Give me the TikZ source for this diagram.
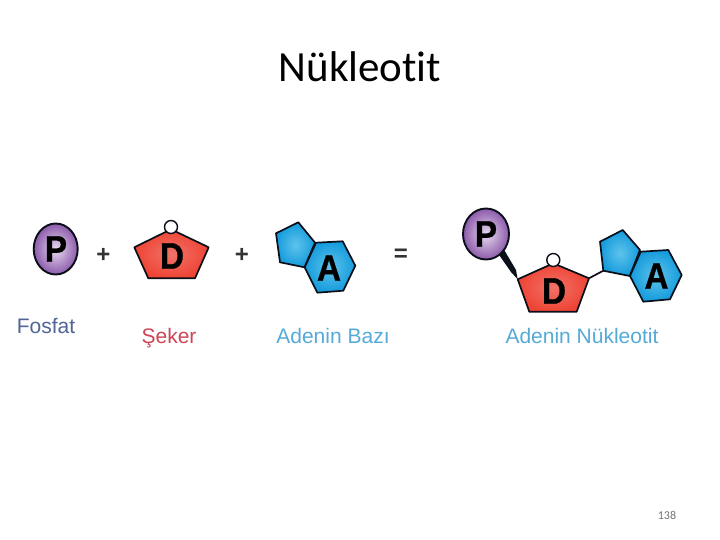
\documentclass[tikz,border=0pt]{standalone}
\usepackage{fontspec}
\setmainfont{Liberation Sans}
\newfontfamily\slidefont[RawFeature={-liga}]{Carlito}
\newfontfamily\letterfont[FakeStretch=0.9,FakeBold=0.8]{Liberation Sans Bold}
\definecolor{ballmid}{RGB}{232,218,240}
\definecolor{ballrim}{RGB}{140,90,170}
\definecolor{sugar}{RGB}{238,68,52}
\definecolor{sugarlight}{RGB}{240,115,105}
\definecolor{basefill}{RGB}{20,155,220}
\definecolor{baselight}{RGB}{95,195,235}
\definecolor{outlinec}{RGB}{10,15,25}
\definecolor{fosfatc}{RGB}{80,100,150}
\definecolor{sekerc}{RGB}{205,70,85}
\definecolor{bazc}{RGB}{85,170,215}
\usetikzlibrary{shapes.geometric}
\tikzset{
  ballnode/.style={ellipse,draw=outlinec,line width=1.9pt,inner sep=0pt,
    inner color=ballmid,outer color=ballrim},
  sugarshape/.style={draw=outlinec,line width=1.7pt,line join=round,inner color=sugarlight,outer color=sugar},
  baseshape/.style={draw=outlinec,line width=1.7pt,line join=round,inner color=baselight,outer color=basefill},
  hydroxyl/.style={circle,draw=outlinec,line width=1.4pt,fill=white,inner sep=0pt,minimum size=13pt},
  letternode/.style={font=\letterfont\fontsize{37}{37}\selectfont,text=black,inner sep=0pt},
  opnode/.style={font=\fontsize{24}{24}\selectfont\bfseries,text=black!80,inner sep=0pt},
  namelabel/.style={font=\fontsize{21}{21}\selectfont,inner sep=0pt,anchor=base},
  bondline/.style={draw=outlinec,line width=1.7pt}
}
\begin{document}
\begin{tikzpicture}[x=1pt,y=-1pt]
\useasboundingbox (0,0) rectangle (720,540);
\fill[white] (0,0) rectangle (720,540);
\node[font=\slidefont\fontsize{43}{43}\selectfont,text=black,inner sep=0pt] (title) at (360,67) {Nükleotit};
% phosphate
\node[ballnode,minimum width=44pt,minimum height=51pt] (p1) at (55.7,249) {};
\node[letternode] (p1t) at (56,249) {P};
\node[opnode] (plus1) at (103.3,255) {+};
% sugar
\path[sugarshape] (171,229.3) -- (208.7,247.3) -- (195,278.3) -- (148.3,278.3) -- (134.3,247.3) -- cycle;
\node[hydroxyl] (oh1) at (171,227) {};
\node[letternode] (d1) at (172,256) {D};
\node[opnode] (plus2) at (242,255) {+};
% base
\path[baseshape] (298.3,222.3) -- (315,242.7) -- (304.5,267.3) -- (280,262.3) -- (276,233.3) -- cycle;
\path[baseshape] (342.7,241.3) -- (355.3,265.7) -- (343.3,290.7) -- (317.3,292.7) -- (304.7,267.3) -- (316,242.7) -- cycle;
\node[letternode] (a1) at (329,268) {A};
\node[opnode] (eq) at (401,255) {=};
% nucleotide
\coordinate (sugarleft) at (517.7,279.3);
\coordinate (sugarright) at (589,278.3);
\coordinate (basecorner) at (603.3,270.7);
\fill[outlinec] (497,252) -- (503,248) -- (516,270) -- (sugarleft) -- (511,272) -- cycle;
\node[ballnode,minimum width=46pt,minimum height=51pt] (p2) at (486,234) {};
\node[letternode] (p2t) at (486,234) {P};
\draw[bondline] (sugarright) -- (basecorner);
\path[sugarshape] (553.3,263.3) -- (sugarright) -- (576.7,311.7) -- (529.3,311.7) -- (sugarleft) -- cycle;
\node[hydroxyl] (oh2) at (553.3,260) {};
\node[letternode] (d2) at (554,291) {D};
\path[baseshape] (622.7,230) -- (640,250) -- (629.7,276) -- (basecorner) -- (600,241.7) -- cycle;
\path[baseshape] (668.3,250) -- (681.7,275) -- (670,299.3) -- (643.3,301.7) -- (630,276) -- (640.7,251.7) -- cycle;
\node[letternode] (a2) at (656.5,276) {A};
% labels
\node[namelabel,text=fosfatc] (lf) at (46,333) {Fosfat};
\node[namelabel,text=sekerc] (ls) at (169,343) {Şeker};
\node[namelabel,text=bazc] (lb) at (333,343) {Adenin Bazı};
\node[namelabel,text=bazc] (ln) at (582,343) {Adenin Nükleotit};
\node[font=\slidefont\fontsize{12}{12}\selectfont,text=black!55,inner sep=0pt] (num) at (667,515) {138};
\end{tikzpicture}
\end{document}
